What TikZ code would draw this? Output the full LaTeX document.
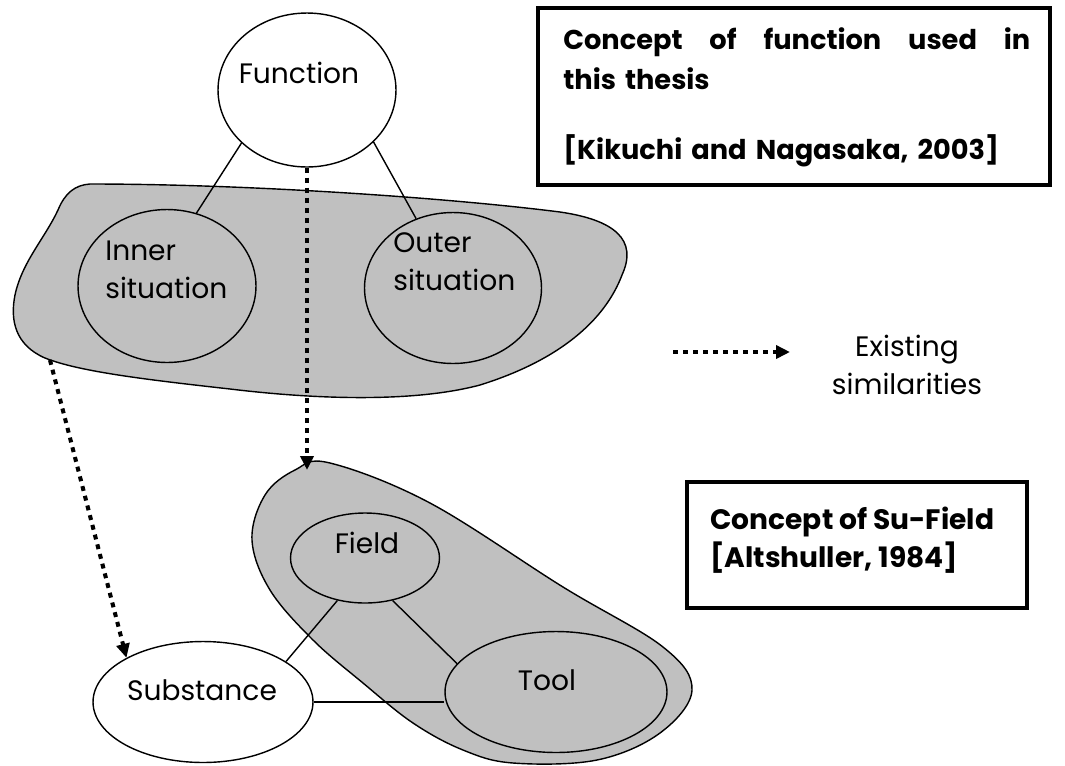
\documentclass[tikz,border=0pt]{standalone}
\usepackage{fontspec}
\setmainfont{Poppins}
\usepackage{tikz}
\usetikzlibrary{arrows.meta,shapes.geometric}
\definecolor{blobgray}{RGB}{192,192,192}
\tikzset{
  bubble/.style={draw, ellipse, line width=0.8pt, inner sep=0pt},
  lbl/.style={inner sep=0pt, font=\fontsize{16}{21.5}\selectfont},
  blob/.style={draw, fill=blobgray, line width=0.8pt},
  link/.style={line width=0.8pt},
  simil/.style={-{Triangle[length=0.28cm,width=0.26cm]}, line width=2.3pt, dash pattern=on 2.8pt off 2.9pt},
  refbox/.style={draw, line width=2pt, inner sep=0pt},
  reftxt/.style={inner sep=0pt, font=\fontsize{15.5}{22.7}\selectfont\bfseries, align=left}
}

\begin{document}
\begin{tikzpicture}[x=0.02cm,y=-0.02cm,>=Latex]
        \useasboundingbox (0,0) rectangle (1065,765);
        % shaded groups
        \draw[blob] (90,184) .. controls (250,184) and (450,198) .. (560,212)
          .. controls (615,220) and (638,240) .. (622,275)
          .. controls (605,320) and (560,360) .. (480,385)
          .. controls (420,401) and (330,401) .. (230,389)
          .. controls (150,380) and (80,372) .. (45,358)
          .. controls (15,345) and (10,320) .. (15,295)
          .. controls (22,262) and (45,238) .. (58,210)
          .. controls (65,193) and (75,185) .. (90,184) -- cycle;
        \draw[blob] plot[smooth cycle, tension=0.6] coordinates {(330,463) (430,503) (563,587) (663,647) (692,690) (660,733) (597,760) (513,763) (463,750) (413,723) (363,683) (313,640) (270,590) (252,540) (265,495) (295,470)};
        % concepts
        \node[bubble, fill=white, minimum width=3.56cm, minimum height=3.08cm] (func) at (307,90) {};
        \node[bubble, minimum width=3.56cm, minimum height=3.06cm] (inner) at (167,286) {};
        \node[bubble, minimum width=3.54cm, minimum height=3.02cm] (outer) at (453,288) {};
        \node[bubble, fill=white, minimum width=4.4cm, minimum height=2.42cm] (sub) at (203,702) {};
        \node[bubble, fill=blobgray, minimum width=2.98cm, minimum height=1.8cm] (field) at (365,558) {};
        \node[bubble, fill=blobgray, minimum width=4.44cm, minimum height=2.42cm] (tool) at (556,692) {};
        \node[lbl] (funclbl) at (299,73) {Function};
        \node[lbl, align=left, anchor=west] (innerlbl) at (105,270) {Inner\\situation};
        \node[lbl, align=left, anchor=west] (outerlbl) at (393,262) {Outer\\situation};
        \node[lbl] (sublbl) at (202,690) {Substance};
        \node[lbl] (fieldlbl) at (367,543) {Field};
        \node[lbl] (toollbl) at (547,680) {Tool};
        % relations
        \draw[link] (func.219) -- (inner.68);
        \draw[link] (func.322) -- (outer.118);
        \draw[link] (field.237) -- (sub.26);
        \draw[link] (field.303) -- (tool.164);
        \draw[link] (sub.east) -- (sub.east -| tool.west);
        % similarities
        \coordinate (bigblob) at (50,360);
        \coordinate (fldtop) at (307,470);
        \draw[simil] (func.south) -- (fldtop);
        \draw[simil] (bigblob) -- (sub.150);
        % legend
        \coordinate (legA) at (673,352);
        \coordinate (legB) at (790,352);
        \draw[simil] (legA) -- (legB);
        \node[lbl, align=center] (leglbl) at (907,365) {Existing\\similarities};
        % references
        \node[refbox, minimum width=10.24cm, minimum height=3.54cm] (thesisbox) at (794,96.5) {};
        \node[reftxt, text width=9.34cm, anchor=north west] (thesistxt) at (563,27) {\hbox to 9.34cm{Concept\hfill of\hfill function\hfill used\hfill in}\\ this thesis\\[0.62cm] {[}Kikuchi and Nagasaka, 2003{]}};
        \node[refbox, minimum width=6.8cm, minimum height=2.52cm] (sufieldbox) at (857,545) {};
        \node[reftxt, anchor=north west, font=\fontsize{16}{21.5}\selectfont\bfseries] (sufieldtxt) at (710,507) {Concept of Su-Field\\ {[}Altshuller, 1984{]}};
      \end{tikzpicture}
\end{document}
